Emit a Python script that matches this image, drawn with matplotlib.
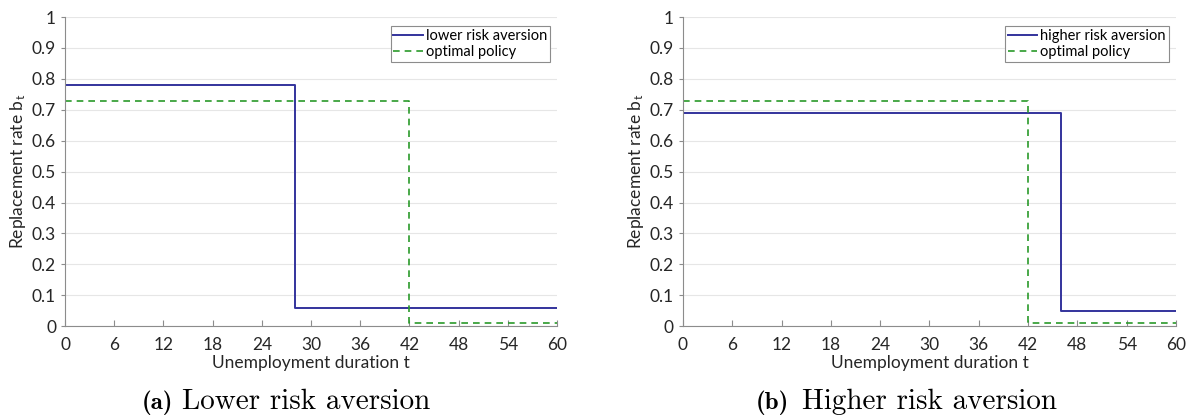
import matplotlib.pyplot as plt

plt.rcParams['font.family'] = ['Lato', 'DejaVu Sans']
plt.rcParams['mathtext.fontset'] = 'cm'

# unemployment duration breakpoints and replacement rates
t_lower = [0, 28, 60]
b_lower = [0.78, 0.06, 0.06]
t_higher = [0, 46, 60]
b_higher = [0.69, 0.05, 0.05]
t_opt = [0, 42, 60]
b_opt = [0.73, 0.01, 0.01]

labels = ['lower risk aversion', 'higher risk aversion']
cap_tags = ['(a)', '(b)']
cap_texts = ['Lower risk aversion', 'Higher risk aversion']
xticks = [0, 6, 12, 18, 24, 30, 36, 42, 48, 54, 60]
yticks = [0, 0.1, 0.2, 0.3, 0.4, 0.5, 0.6, 0.7, 0.8, 0.9, 1]
yticklabels = ['0', '0.1', '0.2', '0.3', '0.4', '0.5', '0.6', '0.7', '0.8', '0.9', '1']

blue = '#33339c'
green = '#2a9a2a'

fig = plt.figure(figsize=(11.87, 4.16), dpi=100)
ax1 = fig.add_axes([0.0548, 0.216, 0.4145, 0.743])
ax2 = fig.add_axes([0.5754, 0.216, 0.4153, 0.743])

series = [(t_lower, b_lower), (t_higher, b_higher)]
for i, ax in enumerate([ax1, ax2]):
    t, b = series[i]
    ax.step(t, b, where='post', color=blue, lw=1.4, label=labels[i])
    ax.step(t_opt, b_opt, where='post', color=green, lw=1.2, ls=(0, (4, 3)), label='optimal policy')
    ax.set_xlim(0, 60)
    ax.set_ylim(0, 1)
    ax.set_xticks(xticks)
    ax.set_yticks(yticks)
    ax.set_yticklabels(yticklabels)
    ax.grid(axis='y', color='#e6e6e6', lw=0.8)
    ax.set_axisbelow(True)
    for s in ['top', 'right']:
        ax.spines[s].set_visible(False)
    for s in ['left', 'bottom']:
        ax.spines[s].set_color('#8c8c8c')
    ax.tick_params(axis='x', direction='in', length=4, color='#8c8c8c', labelsize=12.5, labelcolor='#262626', pad=8)
    ax.tick_params(axis='y', direction='out', length=3, color='#8c8c8c', labelsize=12.5, labelcolor='#262626')
    ax.set_xlabel('Unemployment duration t', fontsize=12.5, color='#262626', labelpad=1)
    ax.set_ylabel(r'Replacement rate b$_{\mathregular{t}}$', fontsize=12.5, color='#262626', labelpad=3)
    leg = ax.legend(loc='upper right', bbox_to_anchor=(0.985, 0.97), fontsize=10.5, handlelength=2.0,
                    handletextpad=0.2, borderpad=0.2, borderaxespad=0, fancybox=False, framealpha=1,
                    labelspacing=0.1)
    leg.get_frame().set_edgecolor('#8c8c8c')
    leg.get_frame().set_linewidth(0.8)

# captions: bold tag + roman text, split around a shared x position
tag_right = [0.1457, 0.6647]
text_left = [0.1533, 0.6757]
for i in range(2):
    fig.text(tag_right[i], 0.018, cap_tags[i], fontsize=18, family='cmb10', ha='right', va='baseline')
    fig.text(text_left[i], 0.018, cap_texts[i], fontsize=21, family='cmr10', ha='left', va='baseline')

fig.savefig('out.png', dpi=100)
